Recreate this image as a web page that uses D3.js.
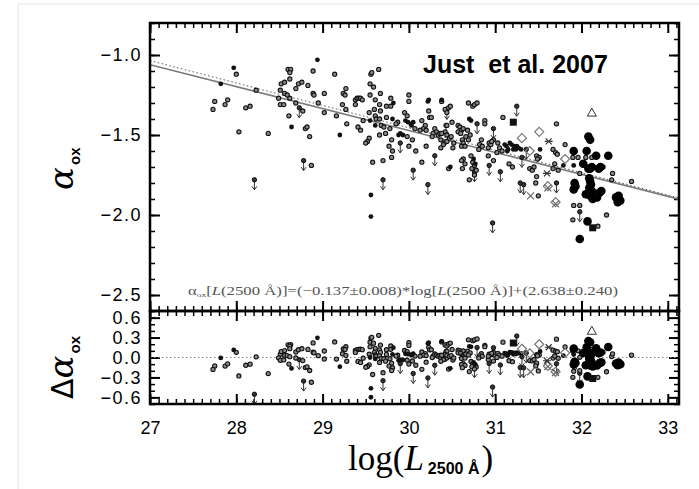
<!DOCTYPE html>
<html>
<head>
<meta charset="utf-8">
<script src="https://cdn.jsdelivr.net/npm/d3@7"></script>
<style>
	body { margin: 0; background: #fff; }
	text { font-family: "Liberation Sans", Arial, sans-serif; }
</style>
</head>
<body>
<svg id="chart" width="699" height="489"></svg>
<script>
// tick values
const xTicks = [27, 28, 29, 30, 31, 32, 33];
const alphaTicks = [-1.0, -1.5, -2.0, -2.5];
const deltaTicks = [0.6, 0.3, 0.0, -0.3, -0.6];

// best fit (solid) and the other relation (dotted)
const fitSlope = -0.137;
const fitIntercept = 2.638;
const altSlope = -0.140;
const altIntercept = 2.745;

// [log L2500, alpha_ox] per symbol
const circles = [
	[27.75, -1.29], [27.73, -1.34], [27.87, -1.31], [27.90, -1.28], [28.00, -1.12], [28.11, -1.33],
	[28.16, -1.32], [28.23, -1.22], [28.03, -1.48], [28.37, -1.49], [28.51, -1.22], [28.49, -1.27],
	[28.51, -1.31], [28.55, -1.31], [28.52, -1.18], [28.56, -1.17], [28.60, -1.09], [28.63, -1.09],
	[28.62, -1.11], [28.62, -1.15], [28.56, -1.24], [28.59, -1.25], [28.62, -1.27], [28.61, -1.38],
	[28.69, -1.30], [28.69, -1.21], [28.72, -1.18], [28.76, -1.17], [28.77, -1.35], [28.80, -1.46],
	[28.82, -1.45], [28.85, -1.51], [28.87, -1.69], [28.83, -1.19], [28.89, -1.10], [28.89, -1.24],
	[28.90, -1.25], [28.95, -1.30], [29.02, -1.24], [29.02, -1.36],
	[29.14, -1.12], [29.24, -1.24], [29.27, -1.21], [29.26, -1.25], [29.23, -1.31], [29.27, -1.34],
	[29.16, -1.38], [29.28, -1.43], [29.38, -1.28], [29.40, -1.27], [29.42, -1.27], [29.44, -1.27],
	[29.46, -1.28], [29.38, -1.31], [29.41, -1.45], [29.44, -1.47], [29.54, -1.52], [29.52, -1.54],
	[29.50, -1.55], [29.47, -1.41], [29.54, -1.36], [29.55, -1.18], [29.56, -1.12], [29.65, -1.09],
	[29.57, -1.11], [29.59, -1.20], [29.55, -1.25], [29.61, -1.28], [29.67, -1.24], [29.66, -1.31],
	[29.60, -1.34], [29.61, -1.38], [29.67, -1.35], [29.62, -1.40], [29.66, -1.40], [29.68, -1.44],
	[29.71, -1.45], [29.66, -1.50], [29.73, -1.49], [29.58, -1.67], [29.70, -1.66], [29.74, -1.32],
	[29.79, -1.27], [29.79, -1.32], [29.74, -1.39], [29.78, -1.46], [29.80, -1.53], [29.77, -1.57],
	[29.81, -1.60], [29.80, -1.64], [29.87, -1.42], [29.85, -1.43], [29.95, -1.36], [29.98, -1.38],
	[30.00, -1.25], [30.00, -1.29], [30.07, -1.46], [29.98, -1.51], [30.04, -1.53], [30.00, -1.57],
	[30.08, -1.60], [30.15, -1.67], [30.20, -1.57], [30.23, -1.35], [30.24, -1.39], [30.26, -1.39],
	[30.15, -1.41], [30.19, -1.44], [30.17, -1.46], [30.20, -1.47], [30.13, -1.47], [30.30, -1.46],
	[30.32, -1.48], [30.28, -1.49], [30.27, -1.51], [30.34, -1.50], [30.36, -1.49], [30.37, -1.53],
	[30.42, -1.34], [30.44, -1.36], [30.41, -1.55], [30.44, -1.54], [30.46, -1.71],
	[30.38, -1.29], [30.46, -1.33], [30.48, -1.32], [30.50, -1.42], [30.44, -1.44], [30.42, -1.48],
	[30.38, -1.49], [30.44, -1.50], [30.47, -1.52], [30.49, -1.51], [30.40, -1.56], [30.37, -1.58],
	[30.51, -1.58], [30.52, -1.55], [30.57, -1.44], [30.59, -1.45], [30.61, -1.47], [30.63, -1.46],
	[30.57, -1.48], [30.60, -1.49], [30.62, -1.53], [30.63, -1.55], [30.61, -1.57], [30.65, -1.57],
	[30.69, -1.30], [30.74, -1.32], [30.76, -1.31], [30.79, -1.30], [30.68, -1.47], [30.66, -1.51],
	[30.71, -1.50], [30.69, -1.53], [30.63, -1.65], [30.61, -1.66], [30.65, -1.68], [30.62, -1.71],
	[30.72, -1.63], [30.74, -1.67], [30.76, -1.69], [30.73, -1.71], [30.78, -1.72], [30.76, -1.75],
	[30.70, -1.78], [30.84, -1.53], [30.82, -1.56], [30.85, -1.57], [30.81, -1.59], [30.88, -1.41],
	[30.88, -1.43], [30.92, -1.63], [30.98, -1.53], [30.98, -1.66], [30.93, -1.55], [30.95, -1.56],
	[30.96, -1.54], [30.92, -1.58], [31.03, -1.55], [31.05, -1.58], [31.08, -1.60], [31.02, -1.61],
	[31.09, -1.39], [31.16, -1.68], [31.20, -1.70], [31.48, -1.63], [31.51, -1.64], [31.49, -1.65],
	[31.71, -1.43], [31.40, -1.71], [31.43, -1.72], [31.45, -1.70], [31.48, -1.76], [31.47, -1.80],
	[31.50, -1.88], [31.73, -1.72], [31.67, -1.71], [31.69, -1.68],
	[31.67, -1.59], [31.70, -1.61], [31.72, -1.62], [31.81, -1.56], [31.90, -1.64], [31.96, -1.64],
	[32.05, -1.64], [32.12, -1.64], [32.25, -1.70], [31.98, -1.74], [32.35, -1.78], [32.36, -1.74],
	[32.58, -1.79], [31.90, -2.03], [31.91, -1.94], [31.98, -1.94], [32.19, -2.07], [32.29, -2.00]
];
const dots = [
	[27.97, -1.08], [27.82, -1.18], [28.64, -1.45], [28.94, -1.03], [29.20, -1.50], [29.55, -1.41],
	[29.56, -1.875], [29.56, -2.01], [29.61, -1.44], [29.82, -1.30], [29.81, -1.40], [29.88, -1.50],
	[29.90, -1.49], [29.93, -1.50], [29.96, -1.41], [29.99, -1.42], [30.02, -1.43], [30.05, -1.42],
	[30.03, -1.44], [30.22, -1.29], [30.23, -1.28], [30.38, -1.28], [30.70, -1.40], [30.72, -1.41],
	[30.48, -1.70], [30.75, -1.65], [30.77, -1.68], [31.11, -1.56], [31.13, -1.57], [31.15, -1.59],
	[31.14, -1.60], [31.17, -1.55], [31.19, -1.56], [31.22, -1.57], [31.21, -1.59], [31.25, -1.57],
	[31.24, -1.59], [31.27, -1.58], [31.30, -1.59], [31.52, -1.59], [31.79, -1.69], [31.91, -1.69]
];
const bigDots = [
	[31.91, -1.60], [32.06, -1.60], [32.17, -1.63], [32.31, -1.63], [32.08, -1.51], [32.10, -1.53],
	[32.02, -1.68], [32.08, -1.71], [32.10, -1.71], [32.12, -1.70], [32.20, -1.71], [32.22, -1.70],
	[31.92, -1.80], [31.93, -1.82], [31.91, -1.84], [32.09, -1.77], [32.10, -1.79], [32.11, -1.81],
	[32.09, -1.83], [32.05, -1.87], [32.10, -1.88], [32.13, -1.90], [32.21, -1.86], [32.23, -1.85],
	[32.18, -1.89], [32.12, -1.85], [32.40, -1.89], [32.43, -1.88], [32.42, -1.92], [32.45, -1.91],
	[32.07, -2.04], [31.98, -2.15]
];
const limits = [
	[28.21, -1.78], [28.73, -1.33], [28.78, -1.66], [29.70, -1.78], [29.90, -1.55], [30.05, -1.72],
	[30.30, -1.63], [30.22, -1.81], [30.43, -1.44], [30.44, -1.34], [30.76, -1.73], [30.79, -1.43],
	[30.93, -1.69], [30.98, -1.46], [31.06, -1.73], [31.25, -1.32], [31.31, -1.64], [31.36, -1.59],
	[31.29, -1.80], [31.33, -1.81], [31.71, -1.80], [31.98, -1.98], [30.97, -2.05], [31.92, -1.79]
];
const diamonds = [[31.31, -1.52], [31.51, -1.48], [31.40, -1.60], [31.81, -1.65], [31.61, -1.82], [31.70, -1.92]];
const stars = [[31.62, -1.54], [31.60, -1.74]];
const crosses = [[31.41, -1.88], [31.70, -1.93], [31.61, -1.83]];
const triangles = [[32.12, -1.36]];
const squares = [[32.13, -2.08], [31.21, -1.42]];

const svg = d3.select("#chart");

// faint page outline
svg.append("path").attr("d", "M18,489V4H699").attr("fill", "none").attr("stroke", "#e4e4e4");

const pLeft = 150, pRight = 679, pTop = 23, pMid = 311, pBottom = 404;
const x = d3.scaleLinear().domain([27, 33.13]).range([pLeft, pRight]);
const yA = d3.scaleLinear().domain([-2.6, -0.8]).range([pMid, pTop]);
const yD = d3.scaleLinear().domain([-0.7, 0.7]).range([pBottom, pMid]);

const fmt = (d) => d3.format(".1f")(d);
const xMinor = d3.range(27, 33.13, 0.1);

function styleAxis(g, w) {
	g.select(".domain").remove();
	g.selectAll("line").attr("stroke", "#000").attr("stroke-width", w);
	g.selectAll("text").attr("fill", "#000").style("font-size", "18px")
		.style("font-family", "'Liberation Sans', Arial, sans-serif");
}

function axisSet(y0, y1, yScale, major, minor, showX) {
	// left / right
	svg.append("g").attr("transform", `translate(${pLeft},0)`)
		.call(d3.axisLeft(yScale).tickValues(major).tickFormat(fmt).tickSizeInner(-10).tickSizeOuter(0).tickPadding(8))
		.call((g) => styleAxis(g, 2))
		.call((g) => g.selectAll("text").style("letter-spacing", "1.5px"));
	svg.append("g").attr("transform", `translate(${pLeft},0)`)
		.call(d3.axisLeft(yScale).tickValues(minor).tickFormat("").tickSizeInner(-5).tickSizeOuter(0))
		.call((g) => styleAxis(g, 1.5));
	svg.append("g").attr("transform", `translate(${pRight},0)`)
		.call(d3.axisRight(yScale).tickValues(major).tickFormat("").tickSizeInner(-10).tickSizeOuter(0))
		.call((g) => styleAxis(g, 2));
	svg.append("g").attr("transform", `translate(${pRight},0)`)
		.call(d3.axisRight(yScale).tickValues(minor).tickFormat("").tickSizeInner(-5).tickSizeOuter(0))
		.call((g) => styleAxis(g, 1.5));
	// top / bottom
	svg.append("g").attr("transform", `translate(0,${y0})`)
		.call(d3.axisTop(x).tickValues(xTicks).tickFormat("").tickSizeInner(-10).tickSizeOuter(0))
		.call((g) => styleAxis(g, 2));
	svg.append("g").attr("transform", `translate(0,${y0})`)
		.call(d3.axisTop(x).tickValues(xMinor).tickFormat("").tickSizeInner(-5).tickSizeOuter(0))
		.call((g) => styleAxis(g, 1.5));
	svg.append("g").attr("transform", `translate(0,${y1})`)
		.call(d3.axisBottom(x).tickValues(xTicks).tickFormat(showX ? d3.format("d") : "").tickSizeInner(-10).tickSizeOuter(0).tickPadding(17))
		.call((g) => styleAxis(g, 2));
	svg.append("g").attr("transform", `translate(0,${y1})`)
		.call(d3.axisBottom(x).tickValues(xMinor).tickFormat("").tickSizeInner(-5).tickSizeOuter(0))
		.call((g) => styleAxis(g, 1.5));
}

axisSet(pTop, pMid, yA, alphaTicks, d3.range(-2.6, -0.79, 0.1), false);
axisSet(pMid, pBottom, yD, deltaTicks, d3.range(-0.7, 0.71, 0.1), true);

// clip paths
const defs = svg.append("defs");
defs.append("clipPath").attr("id", "clipA").append("rect")
	.attr("x", pLeft).attr("y", pTop).attr("width", pRight - pLeft).attr("height", pMid - pTop);
defs.append("clipPath").attr("id", "clipD").append("rect")
	.attr("x", pLeft).attr("y", pMid).attr("width", pRight - pLeft).attr("height", pBottom - pMid);

const gA = svg.append("g").attr("clip-path", "url(#clipA)");
const gD = svg.append("g").attr("clip-path", "url(#clipD)");

// relations
const xs = x.domain();
gA.append("line")
	.attr("x1", x(xs[0])).attr("y1", yA(altSlope * xs[0] + altIntercept))
	.attr("x2", x(xs[1])).attr("y2", yA(altSlope * xs[1] + altIntercept))
	.attr("stroke", "#555").attr("stroke-width", 1).attr("stroke-dasharray", "1.5,2.5");
gA.append("line")
	.attr("x1", x(xs[0])).attr("y1", yA(fitSlope * xs[0] + fitIntercept))
	.attr("x2", x(xs[1])).attr("y2", yA(fitSlope * xs[1] + fitIntercept))
	.attr("stroke", "#7a7a7a").attr("stroke-width", 1.6);
gD.append("line")
	.attr("x1", pLeft).attr("x2", pRight).attr("y1", yD(0)).attr("y2", yD(0))
	.attr("stroke", "#888").attr("stroke-width", 1).attr("stroke-dasharray", "1.5,2.5");

function drawMarks(g, yScale, yOf) {
	const cx = (d) => x(d[0]);
	const cy = (d) => yScale(yOf(d));

	const lim = g.append("g").attr("stroke", "#333").attr("stroke-width", 1).attr("fill", "none");
	lim.selectAll("line").data(limits).join("line")
		.attr("x1", cx).attr("x2", cx).attr("y1", cy).attr("y2", (d) => cy(d) + 10);
	lim.selectAll("path").data(limits).join("path")
		.attr("d", (d) => `M${cx(d) - 2.5},${cy(d) + 6.5}L${cx(d)},${cy(d) + 10}L${cx(d) + 2.5},${cy(d) + 6.5}`);
	g.append("g").selectAll("circle").data(limits).join("circle")
		.attr("cx", cx).attr("cy", cy).attr("r", 2.2)
		.attr("fill", "#333").attr("stroke", "#111").attr("stroke-width", 1);

	g.append("g").selectAll("circle").data(circles).join("circle")
		.attr("cx", cx).attr("cy", cy).attr("r", 2.1)
		.attr("fill", "#8a8a8a").attr("stroke", "#111").attr("stroke-width", 1.1);
	g.append("g").selectAll("circle").data(dots).join("circle")
		.attr("cx", cx).attr("cy", cy).attr("r", 2.4).attr("fill", "#111");
	g.append("g").selectAll("circle").data(bigDots).join("circle")
		.attr("cx", cx).attr("cy", cy).attr("r", 4.3).attr("fill", "#000");
	g.append("g").selectAll("rect").data(squares).join("rect")
		.attr("x", (d) => cx(d) - 3.5).attr("y", (d) => cy(d) - 3.5)
		.attr("width", 7).attr("height", 7).attr("fill", "#111");
	g.append("g").selectAll("path").data(diamonds).join("path")
		.attr("d", (d) => `M${cx(d)},${cy(d) - 4.5}L${cx(d) + 4.5},${cy(d)}L${cx(d)},${cy(d) + 4.5}L${cx(d) - 4.5},${cy(d)}Z`)
		.attr("fill", "none").attr("stroke", "#777").attr("stroke-width", 1.2);
	g.append("g").selectAll("path").data(stars).join("path")
		.attr("d", (d) => `M${cx(d) - 4},${cy(d)}H${cx(d) + 4}M${cx(d) - 3},${cy(d) - 3}L${cx(d) + 3},${cy(d) + 3}M${cx(d) - 3},${cy(d) + 3}L${cx(d) + 3},${cy(d) - 3}`)
		.attr("stroke", "#333").attr("stroke-width", 1.2);
	g.append("g").selectAll("path").data(crosses).join("path")
		.attr("d", (d) => `M${cx(d) - 3.5},${cy(d) - 3.5}L${cx(d) + 3.5},${cy(d) + 3.5}M${cx(d) - 3.5},${cy(d) + 3.5}L${cx(d) + 3.5},${cy(d) - 3.5}`)
		.attr("stroke", "#666").attr("stroke-width", 1.2);
	g.append("g").selectAll("path").data(triangles).join("path")
		.attr("d", (d) => `M${cx(d)},${cy(d) - 4.5}L${cx(d) + 4.5},${cy(d) + 3.5}L${cx(d) - 4.5},${cy(d) + 3.5}Z`)
		.attr("fill", "none").attr("stroke", "#333").attr("stroke-width", 1);
}

drawMarks(gA, yA, (d) => d[1]);
drawMarks(gD, yD, (d) => d[1] - (fitSlope * d[0] + fitIntercept));

// frames
[[pTop, pMid], [pMid, pBottom]].forEach(([a, b]) => {
	svg.append("rect").attr("x", pLeft).attr("y", a).attr("width", pRight - pLeft).attr("height", b - a)
		.attr("fill", "none").attr("stroke", "#000").attr("stroke-width", 2.5);
});

// annotation
svg.append("text").attr("x", 423).attr("y", 73)
	.style("white-space", "pre").style("font-weight", "bold").style("font-size", "25px")
	.text("Just  et al. 2007");

const formula = svg.append("text").attr("x", 188).attr("y", 295)
	.attr("textLength", 430).attr("lengthAdjust", "spacingAndGlyphs")
	.style("font-family", "'Liberation Serif', serif").style("font-size", "12.5px").attr("fill", "#555");
formula.append("tspan").text("α");
formula.append("tspan").attr("dy", 2).style("font-size", "7px").text("ox");
formula.append("tspan").attr("dy", -2).text("[");
formula.append("tspan").style("font-style", "italic").text("L");
formula.append("tspan").text("(2500 Å)]=(−0.137±0.008)*log[");
formula.append("tspan").style("font-style", "italic").text("L");
formula.append("tspan").text("(2500 Å)]+(2.638±0.240)");

// y labels
const la = svg.append("text").attr("transform", "translate(73,190) rotate(-90)");
la.append("tspan").style("font-family", "'DejaVu Serif', serif").style("font-style", "italic").style("font-size", "34px").text("α");
la.append("tspan").attr("dy", 7).attr("dx", 2).style("font-size", "15px").style("font-weight", "bold").text("ox");

const ld = svg.append("text").attr("transform", "translate(73,399) rotate(-90)");
ld.append("tspan").style("font-family", "'DejaVu Sans', sans-serif").style("font-size", "30px").text("Δ");
ld.append("tspan").style("font-family", "'DejaVu Serif', serif").style("font-style", "italic").style("font-size", "34px").text("α");
ld.append("tspan").attr("dy", 7).attr("dx", 2).style("font-size", "15px").style("font-weight", "bold").text("ox");

// x label
const lx = svg.append("text").attr("x", 348).attr("y", 470)
	.style("font-family", "'Liberation Serif', serif").style("font-size", "35px");
lx.append("tspan").text("log(");
lx.append("tspan").style("font-style", "italic").text("L");
lx.append("tspan").attr("dy", 4).attr("dx", 4).style("font-family", "'Liberation Sans', Arial, sans-serif")
	.style("font-weight", "bold").style("font-size", "16px").text("2500 Å");
lx.append("tspan").attr("dy", -4).attr("dx", 2).text(")");
</script>
</body>
</html>
